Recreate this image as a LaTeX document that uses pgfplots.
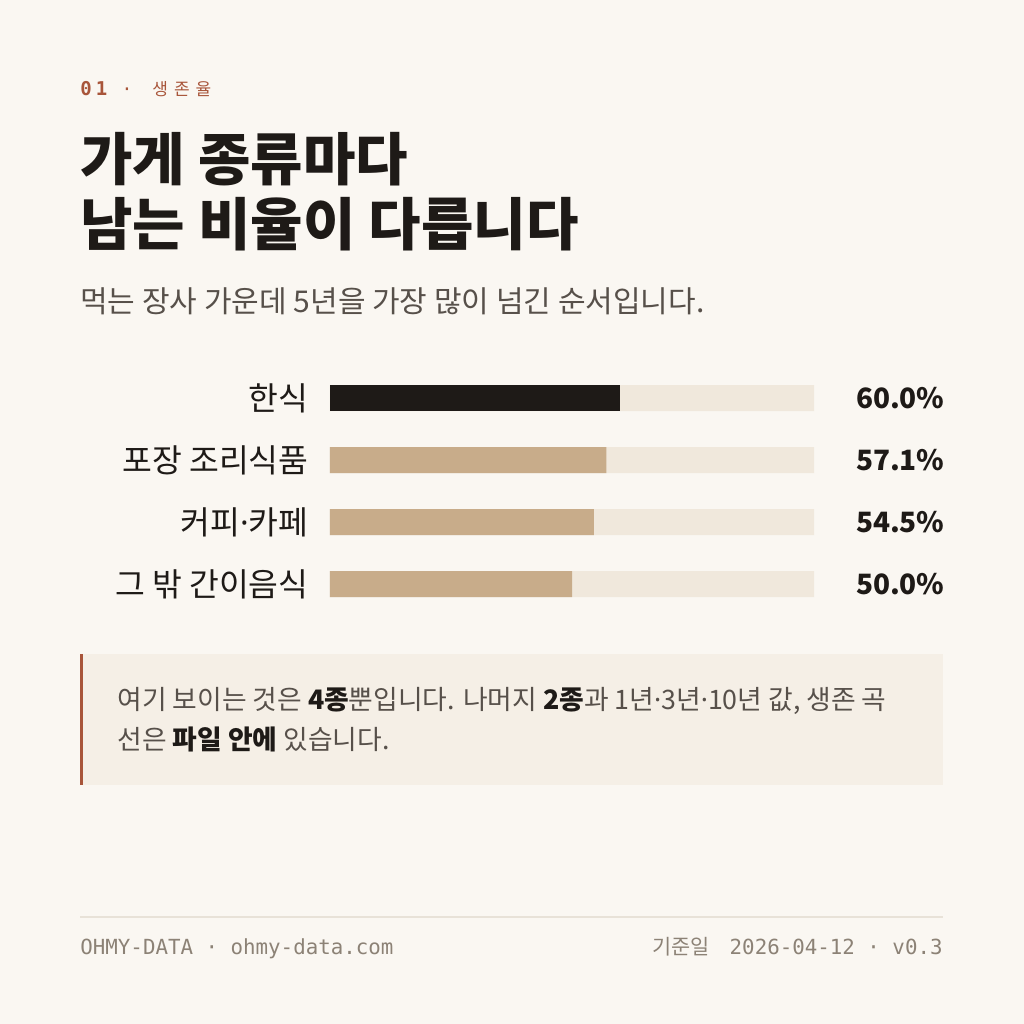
\documentclass[border=0pt]{standalone}
\usepackage{pgfplots}
\pgfplotsset{compat=1.18}
\usepackage{fontspec}
\setmainfont{Noto Sans CJK KR}
\newfontfamily\monofont{DejaVu Sans Mono}
\newfontfamily\latinfont{Noto Sans}
\newcommand{\md}{{\latinfont ·}}

\definecolor{bg}{HTML}{FAF7F2}
\definecolor{ink}{HTML}{1E1A17}
\definecolor{tan}{HTML}{C8AC8A}
\definecolor{track}{HTML}{F0E8DC}
\definecolor{rust}{HTML}{A8553A}
\definecolor{notebg}{HTML}{F5EFE6}
\definecolor{grey}{HTML}{57504A}
\definecolor{foot}{HTML}{8C8276}
\definecolor{rule}{HTML}{E8E2D8}

\begin{document}
\begin{tikzpicture}[x=0.5pt,y=-0.5pt]
% page
\fill[bg] (0,0) rectangle (1024,1024);
\coordinate (chartSW) at (330,615);

% header
\node[anchor=base west,inner sep=0pt,text=rust] at (80,95)
  {\monofont\bfseries\fontsize{9.5}{10}\selectfont 0\hspace{2pt}1};
\node[anchor=base,inner sep=0pt,text=rust] at (127,95)
  {\monofont\fontsize{9}{10}\selectfont ·};
\node[anchor=base west,inner sep=0pt,text=rust] at (152,95)
  {\fontsize{8.5}{10}\selectfont 생\hspace{3pt}존\hspace{3pt}율};

% title
\node[anchor=base west,inner sep=0pt,text=ink] at (80,180)
  {\bfseries\fontsize{28.5}{30}\selectfont 가게 종류마다};
\node[anchor=base west,inner sep=0pt,text=ink] at (80,245)
  {\bfseries\fontsize{28.5}{30}\selectfont 남는 비율이 다릅니다};
\node[anchor=base west,inner sep=0pt,text=grey] at (80,312)
  {\fontsize{15}{16}\selectfont 먹는 장사 가운데 5년을 가장 많이 넘긴 순서입니다.};

% bar chart
\begin{axis}[
  at={(chartSW)}, anchor=south west,
  scale only axis, width=242pt, height=124pt,
  xbar, bar width=13pt, bar shift=0pt,
  xmin=0, xmax=100, ymin=-0.5, ymax=3.5, y dir=reverse,
  axis line style={draw=none}, major tick length=0pt,
  xtick=\empty, ytick={0,1,2,3},
  yticklabels={한식, 포장 조리식품, 커피\md 카페, 그 밖 간이음식},
  yticklabel style={font=\fontsize{16.2}{18}\selectfont, text=ink,
    inner sep=0pt, xshift=-10.5pt},
  clip=false,
]
% background tracks carry the value labels
\addplot[fill=track, draw=none,
  point meta=explicit symbolic,
  nodes near coords,
  every node near coord/.append style={anchor=east, xshift=65.5pt,
    inner sep=0pt, text=ink, font=\bfseries\fontsize{14}{18}\selectfont}]
  coordinates {(100,0) [60.0\%] (100,1) [57.1\%] (100,2) [54.5\%] (100,3) [50.0\%]};
\addplot[fill=ink, draw=none] coordinates {(60.0,0)};
\addplot[fill=tan, draw=none] coordinates {(57.1,1) (54.5,2) (50.0,3)};
\end{axis}

% note box
\fill[notebg] (80,654) rectangle (943,785);
\draw[rust, line width=1.6pt] (81.5,654) -- (81.5,785);
\node[anchor=base west,inner sep=0pt,text=grey] at (117,709)
  {\fontsize{13.4}{15}\selectfont 여기 보이는 것은 {\bfseries\color{ink}4종}뿐입니다. 나머지 {\bfseries\color{ink}2종}과 1년\md 3년\md 10년 값, 생존 곡};
\node[anchor=base west,inner sep=0pt,text=grey] at (117,749)
  {\fontsize{13.4}{15}\selectfont 선은 {\bfseries\color{ink}파일 안에} 있습니다.};

% footer
\draw[rule, line width=0.6pt] (80,917) -- (943,917);
\node[anchor=base west,inner sep=0pt,text=foot] at (80,954)
  {\monofont\fontsize{10.4}{12}\selectfont OHMY-DATA · ohmy-data.com};
\node[anchor=base east,inner sep=0pt,text=foot] at (943,954)
  {\fontsize{10.4}{12}\selectfont 기준일\hspace{10pt}\monofont 2026-04-12 · v0.3};
\end{tikzpicture}
\end{document}
